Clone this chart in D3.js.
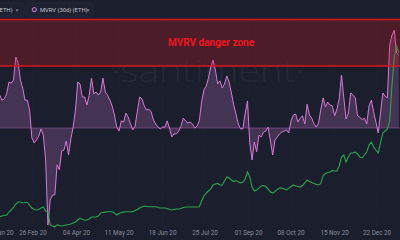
<!DOCTYPE html>
<html><head><meta charset="utf-8">
<script src="https://cdn.jsdelivr.net/npm/d3@7"></script>
<style>html,body{margin:0;padding:0;background:#1b1f2d;}svg{display:block;}</style>
</head><body>
<svg id="c" width="400" height="240"></svg>
<script>
// ---- data ----
const startDate = Date.UTC(2020, 0, 28);   // first sample
const stepDays = 2;                          // one sample every 2 days
const mvrv = [10.6,9.0,9.4,11.0,14.8,14.5,15.5,22.9,21.0,15.5,12.9,9.0,9.0,5.8,-3.2,-4.8,-3.9,-2.6,-0.3,-2.3,
-10.3,-31.3,-23.2,-21.6,-21.6,-11.9,-13.5,-7.4,-7.1,-4.2,-8.7,-3.5,0.3,5.8,14.8,14.2,10.0,10.0,7.4,10.6,
16.1,11.0,11.6,10.6,11.6,16.1,11.6,10.6,9.0,7.1,4.2,0.3,-1.0,2.3,1.9,4.8,3.5,1.3,-0.6,0.6,
5.5,10.0,9.4,7.1,5.8,6.1,5.2,2.6,1.3,0.3,-0.3,0.3,0.3,2.3,0,-2.9,-1.9,-1.9,-1.0,0.6,
3.2,2.3,1.6,1.9,1.3,0,0.6,2.3,8.4,12.3,13.5,16.1,19.7,21.9,18.7,14.2,15.2,12.9,14.2,16.8,
14.8,11.3,7.4,4.5,1.3,-0.3,-0.3,4.8,8.7,-4.8,-10.3,-4.5,-7.7,-2.3,-2.9,-1.3,-1.0,0.3,-4.2,-8.7,
-3.9,-2.9,-1.9,-1.3,-1.0,-0.6,-1.6,2.3,4.2,4.5,1.9,3.2,3.9,1.3,7.7,4.2,3.2,1.3,0.3,1.6,
6.1,9.7,6.8,8.4,7.4,7.1,3.9,6.1,9.4,17.1,9.7,2.9,4.8,11.3,10.6,9.7,3.9,3.5,2.6,3.2,
1.3,7.1,9.0,5.2,1.9,-1.6,4.8,11.3,10.3,9.7,26.8,30.0,31.6,24.2,23.5];
const price = [165,169,172,175,192,204,219,239,251,251,245,248,248,233,216,207,204,207,216,222,
198,192,117,111,105,117,114,111,114,117,120,122,128,134,146,157,149,146,146,152,
163,163,163,169,187,190,192,194,194,194,187,175,184,190,192,194,194,194,194,201,
207,216,222,227,225,223,223,223,223,219,216,216,216,213,207,204,207,210,210,213,
219,222,222,222,222,222,222,223,257,286,303,315,327,350,356,359,350,350,373,397,
391,379,370,376,367,362,367,385,426,397,338,315,321,332,344,347,341,327,309,303,
312,324,332,332,327,321,330,341,350,344,341,338,347,362,379,370,365,359,353,350,
359,405,417,423,426,435,432,432,461,513,525,484,513,537,537,542,531,513,508,525,
542,583,601,572,554,537,595,653,665,677,723,933,1097,1161,1120];
const dangerZone = [20, 35];
const tickDates = ["2020-01-28","2020-02-26","2020-04-04","2020-05-11","2020-06-18","2020-07-25","2020-09-01","2020-10-08","2020-11-15","2020-12-22"];
const legendLabels = ["Price (ETH)", "MVRV (30d) (ETH)"];
const zoneLabel = "MVRV danger zone";
const watermark = "·santiment·";

// ---- chart ----
const W = 400, H = 240;
const svg = d3.select("#c");
const x = d3.scaleUtc().domain([new Date(Date.UTC(2020,0,28,5)), new Date(Date.UTC(2021,0,11))]).range([0, W]);
const yM = d3.scaleLinear().domain([-32, 38]).range([227.2, 10.2]);
const yP = d3.scaleLinear().domain([0, 1400]).range([245, 5]);
const dateAt = i => new Date(startDate + i * stepDays * 864e5);
const mv = mvrv.map((v, i) => ({d: dateAt(i), v}));
const pr = price.map((v, i) => ({d: dateAt(i), v}));
const ticks = tickDates.map(s => new Date(s + "T00:00:00Z"));

svg.append("rect").attr("width", W).attr("height", H).attr("fill", "#1b1f2d");

// grid
svg.append("g").selectAll("line").data(ticks).join("line")
  .attr("x1", d => x(d)).attr("x2", d => x(d)).attr("y1", 18).attr("y2", 226)
  .attr("stroke", "#262b3b").attr("stroke-width", 0.6).attr("stroke-dasharray", "1,2");

// watermark
svg.append("text").attr("x", 208).attr("y", 82).attr("text-anchor", "middle")
  .attr("font-family", "Open Sans, Lato, sans-serif").attr("font-weight", 300)
  .attr("font-size", 32).attr("fill", "#242939").attr("textLength", 194)
  .attr("lengthAdjust", "spacingAndGlyphs").text(watermark);

// MVRV area + line
svg.append("path").datum(mv)
  .attr("d", d3.area().x(d => x(d.d)).y0(yM(0)).y1(d => yM(d.v)))
  .attr("fill", "rgba(214,122,214,0.22)");
svg.append("line").attr("x1", 0).attr("x2", W).attr("y1", yM(0)).attr("y2", yM(0))
  .attr("stroke", "rgba(214,122,214,0.35)").attr("stroke-width", 1);
svg.append("path").datum(mv)
  .attr("d", d3.line().x(d => x(d.d)).y(d => yM(d.v)))
  .attr("fill", "none").attr("stroke", "#d67ad6").attr("stroke-width", 1);

// price line
svg.append("path").datum(pr)
  .attr("d", d3.line().x(d => x(d.d)).y(d => yP(d.v)))
  .attr("fill", "none").attr("stroke", "#28a64d").attr("stroke-width", 1.1);

// danger zone
svg.append("rect").attr("x", 0).attr("width", W)
  .attr("y", yM(dangerZone[1])).attr("height", yM(dangerZone[0]) - yM(dangerZone[1]))
  .attr("fill", "rgba(220,20,30,0.26)");
svg.append("g").selectAll("line").data(dangerZone).join("line")
  .attr("x1", 0).attr("x2", W).attr("y1", d => yM(d)).attr("y2", d => yM(d))
  .attr("stroke", "#d8151c").attr("stroke-width", 1.4);
svg.append("text").attr("x", 211).attr("y", 45.5).attr("text-anchor", "middle")
  .attr("font-family", "Roboto, Arial, sans-serif").attr("font-weight", 700)
  .attr("font-size", 10).attr("fill", "#f0141e").text(zoneLabel);

// legend
const lg = svg.append("g").attr("font-family", "Roboto, Arial, sans-serif").attr("font-size", 5.8).attr("fill", "#c3c7d1");
lg.append("rect").attr("x", -40).attr("y", 3).attr("width", 64).attr("height", 13).attr("rx", 2)
  .attr("fill", "#1d2130").attr("stroke", "#272c3c").attr("stroke-width", 0.8);
lg.append("text").attr("x", 12.5).attr("y", 11.8).attr("text-anchor", "end").text(legendLabels[0]);
lg.append("text").attr("x", 15.5).attr("y", 11.8).attr("fill", "#9aa0ad").text("×");
lg.append("rect").attr("x", 27).attr("y", 3).attr("width", 66).attr("height", 13).attr("rx", 2)
  .attr("fill", "#1d2130").attr("stroke", "#272c3c").attr("stroke-width", 0.8);
lg.append("circle").attr("cx", 34.3).attr("cy", 9.6).attr("r", 2).attr("fill", "none")
  .attr("stroke", "#b266b8").attr("stroke-width", 1.2);
lg.append("text").attr("x", 40).attr("y", 11.8).text(legendLabels[1]);
lg.append("text").attr("x", 86.5).attr("y", 11.8).attr("fill", "#9aa0ad").text("×");

// x axis labels
const fmt = d3.utcFormat("%d %b %y");
svg.append("g").selectAll("text").data(ticks).join("text")
  .attr("x", d => x(d)).attr("y", 235).attr("text-anchor", "middle")
  .attr("font-family", "Roboto, Arial, sans-serif").attr("font-size", 6.3)
  .attr("fill", "#868c9b").text(d => fmt(d));
</script>
</body></html>
